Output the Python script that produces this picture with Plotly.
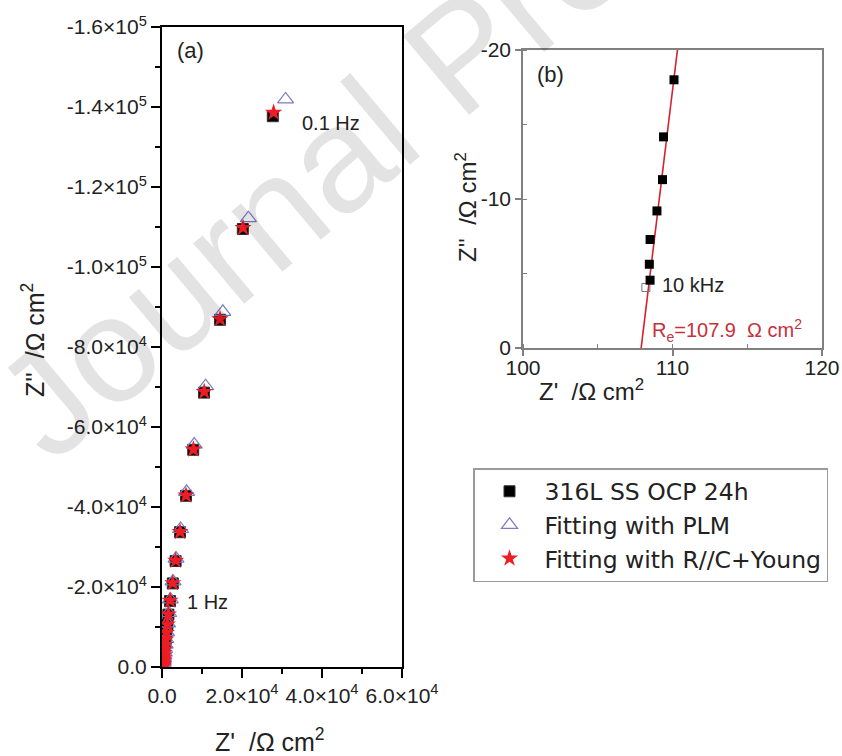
import plotly.graph_objects as go

# ---------------- data ----------------
# Panel (a): Nyquist plot, Z' and Z'' in ohm cm2 (0.1 Hz first)
data_zr = [27700, 20200, 14500, 10500, 7800, 6000, 4500, 3400, 2700, 2000, 1600, 1350, 1100, 900, 750, 620,
           520, 440, 370, 320, 280, 240, 210, 190, 170, 155, 145, 135, 128, 122, 118, 115, 113, 111]
data_zi = [-137700, -109500, -86800, -68600, -54300, -42800, -33700, -26500, -20900, -16500, -13100, -10600,
           -8500, -6800, -5500, -4400, -3500, -2800, -2250, -1800, -1450, -1150, -920, -730, -580, -460, -370,
           -290, -230, -180, -140, -110, -90, -70]

plm_zr = [30900, 21600, 15200, 10900, 8050, 6150, 4650, 3500, 2750, 2080, 1680, 1400, 1150, 950, 790, 660,
          560, 470, 400, 340, 290, 250, 220, 195, 175, 160, 148, 138, 130, 124, 119, 116, 113, 111]
plm_zi = [-141900, -112200, -88800, -70200, -55600, -43800, -34500, -27100, -21400, -16900, -13500, -10900,
          -8700, -7000, -5600, -4500, -3600, -2900, -2300, -1850, -1480, -1180, -940, -750, -600, -470, -375,
          -300, -235, -185, -145, -115, -92, -72]

young_zr = [27900, 20250, 14500, 10550, 7850, 6000, 4520, 3420, 2700, 2020, 1610, 1360, 1100, 900, 750, 620,
            520, 440, 370, 320, 280, 240, 210, 190, 170, 155, 145, 135, 128, 122, 118, 115, 113, 111]
young_zi = [-138600, -109800, -87000, -68800, -54400, -42900, -33800, -26600, -21000, -16600, -13200, -10650,
            -8550, -6850, -5500, -4420, -3520, -2810, -2260, -1810, -1460, -1160, -925, -735, -585, -465, -372,
            -292, -232, -182, -142, -112, -91, -71]

# Panel (b): high-frequency zoom
hf_zr = [110.1, 109.4, 109.33, 108.96, 108.5, 108.45, 108.5]
hf_zi = [-18.0, -14.17, -11.3, -9.2, -7.28, -5.62, -4.55]
hf_open_zr = [108.22]
hf_open_zi = [-4.06]
re_line_zr = [107.72, 110.33]
re_line_zi = [1.5, -20]

series_names = ["316L SS OCP 24h", "Fitting with PLM", "Fitting with R//C+Young"]

a_x_tickvals = [0, 20000, 40000, 60000]
a_x_ticktext = ["0.0", "2.0×10<sup>4</sup>", "4.0×10<sup>4</sup>", "6.0×10<sup>4</sup>"]
a_y_tickvals = [0, -20000, -40000, -60000, -80000, -100000, -120000, -140000, -160000]
a_y_ticktext = ["0.0", "-2.0×10<sup>4</sup>", "-4.0×10<sup>4</sup>", "-6.0×10<sup>4</sup>", "-8.0×10<sup>4</sup>",
                "-1.0×10<sup>5</sup>", "-1.2×10<sup>5</sup>", "-1.4×10<sup>5</sup>", "-1.6×10<sup>5</sup>"]
b_x_tickvals = [100, 110, 120]
b_x_ticktext = ["100", "110", "120"]
b_y_tickvals = [0, -10, -20]
b_y_ticktext = ["0", "-10", "-20"]

# ---------------- figure ----------------
W, H = 842, 756
FONT = "Arial, Liberation Sans, sans-serif"


def px(x):
    return x / W


def py(y):
    return 1 - y / H


fig = go.Figure()

fig.add_trace(go.Scatter(x=data_zr, y=data_zi, mode="markers", name=series_names[0],
                         marker=dict(symbol="square", size=11, color="black",
                                     line=dict(color="#333333", width=1)),
                         xaxis="x", yaxis="y"))
fig.add_trace(go.Scatter(x=plm_zr, y=plm_zi, mode="markers", name=series_names[1],
                         marker=dict(symbol="triangle-up-open", size=14, color="#7c7cc4",
                                     line=dict(width=1.2)),
                         xaxis="x", yaxis="y"))
fig.add_trace(go.Scatter(x=young_zr, y=young_zi, mode="markers", name=series_names[2],
                         marker=dict(symbol="star", size=13, color="#ee1c24",
                                     line=dict(width=0)),
                         xaxis="x", yaxis="y"))

fig.add_trace(go.Scatter(x=re_line_zr, y=re_line_zi, mode="lines", showlegend=False,
                         line=dict(color="#d2232f", width=1.6), xaxis="x2", yaxis="y2"))
fig.add_trace(go.Scatter(x=hf_open_zr, y=hf_open_zi, mode="markers", showlegend=False,
                         marker=dict(symbol="square-open", size=8, color="#777777", line=dict(width=1)),
                         xaxis="x2", yaxis="y2"))
fig.add_trace(go.Scatter(x=hf_zr, y=hf_zi, mode="markers", showlegend=False,
                         marker=dict(symbol="square", size=9, color="black"),
                         xaxis="x2", yaxis="y2"))

axis_a = dict(showline=True, linecolor="black", linewidth=2, mirror=True, ticks="outside",
              ticklen=9, tickwidth=2, tickcolor="black", showgrid=False, zeroline=False,
              automargin=False, tickangle=0,
              tickfont=dict(family=FONT, size=21, color="#222222"))
axis_b = dict(showline=True, linecolor="#808080", linewidth=1.5, mirror=True, ticks="outside",
              ticklen=6, tickwidth=1.5, tickcolor="#808080", showgrid=False, zeroline=False,
              automargin=False, tickangle=0,
              tickfont=dict(family=FONT, size=21, color="#222222"))

fig.update_layout(
    width=W, height=H,
    margin=dict(l=0, r=0, t=0, b=0, autoexpand=False),
    paper_bgcolor="white", plot_bgcolor="rgba(0,0,0,0)",
    font=dict(family=FONT, color="#222222"),
    xaxis=dict(axis_a, domain=[px(162), px(402)], range=[0, 60000], tickmode="array",
               tickvals=a_x_tickvals, ticktext=a_x_ticktext, anchor="y",
               minor=dict(dtick=10000, tick0=0, ticks="outside", ticklen=5, tickwidth=2, tickcolor="black")),
    yaxis=dict(axis_a, domain=[py(667), py(27)], range=[0, -160000], tickmode="array",
               tickvals=a_y_tickvals, ticktext=a_y_ticktext, anchor="x",
               minor=dict(dtick=10000, tick0=0, ticks="outside", ticklen=5, tickwidth=2, tickcolor="black")),
    xaxis2=dict(axis_b, domain=[px(523), px(822)], range=[100, 120], tickmode="array",
                tickvals=b_x_tickvals, ticktext=b_x_ticktext, anchor="y2", ticklabelstandoff=-6,
                minor=dict(dtick=5, tick0=100, ticks="inside", ticklen=4, tickwidth=1.2, tickcolor="#808080")),
    yaxis2=dict(axis_b, domain=[py(348), py(50)], range=[0, -20], tickmode="array",
                tickvals=b_y_tickvals, ticktext=b_y_ticktext, anchor="x2",
                minor=dict(dtick=5, tick0=0, ticks="inside", ticklen=4, tickwidth=1.2, tickcolor="#808080")),
    legend=dict(x=px(473), y=py(468), xanchor="left", yanchor="top",
                bordercolor="#9a9a9a", borderwidth=1.5, bgcolor="white",
                font=dict(family="DejaVu Sans, Arial, sans-serif", size=23.5, color="#222222"),
                itemwidth=60, tracegroupgap=0),
    showlegend=True,
)

annots = [
    # watermark
    dict(text="Journal Pre-proof", x=px(461), y=py(54), xanchor="center", yanchor="middle",
         textangle=-40, font=dict(size=150, color="rgba(0,0,0,0.11)")),
    dict(text="(a)", x=px(175), y=py(50), xanchor="left", yanchor="middle", font=dict(size=22)),
    dict(text="0.1 Hz", x=px(300), y=py(123), xanchor="left", yanchor="middle", font=dict(size=20)),
    dict(text="1 Hz", x=px(185), y=py(602), xanchor="left", yanchor="middle", font=dict(size=20)),
    dict(text="Z'  /Ω cm<sup>2</sup>", x=px(270), y=py(740), xanchor="center", yanchor="middle",
         font=dict(size=25)),
    dict(text="Z''  /Ω cm<sup>2</sup>", x=px(33), y=py(340), xanchor="center", yanchor="middle",
         textangle=-90, font=dict(size=25)),
    dict(text="(b)", x=px(535), y=py(75), xanchor="left", yanchor="middle", font=dict(size=22)),
    dict(text="10 kHz", x=px(660), y=py(285), xanchor="left", yanchor="middle", font=dict(size=20)),
    dict(text="R<sub>e</sub>=107.9  Ω cm<sup>2</sup>", x=px(650), y=py(330), xanchor="left",
         yanchor="middle", font=dict(size=20, color="#c8303a")),
    dict(text="Z'  /Ω cm<sup>2</sup>", x=px(591), y=py(390), xanchor="center", yanchor="middle",
         font=dict(size=24)),
    dict(text="Z''  /Ω cm<sup>2</sup>", x=px(466), y=py(207), xanchor="center", yanchor="middle",
         textangle=-90, font=dict(size=24)),
]
for a in annots:
    a.setdefault("xref", "paper")
    a.setdefault("yref", "paper")
    a.setdefault("showarrow", False)
    f = a.get("font", {})
    f.setdefault("family", FONT)
    f.setdefault("color", "#222222")
    a["font"] = f
    fig.add_annotation(**a)

# remove the default 8px page margin so the figure sits at the window's top-left corner
fig.write_html("out.html", config={"displayModeBar": False},
               post_script="document.body.style.margin='0px';")
